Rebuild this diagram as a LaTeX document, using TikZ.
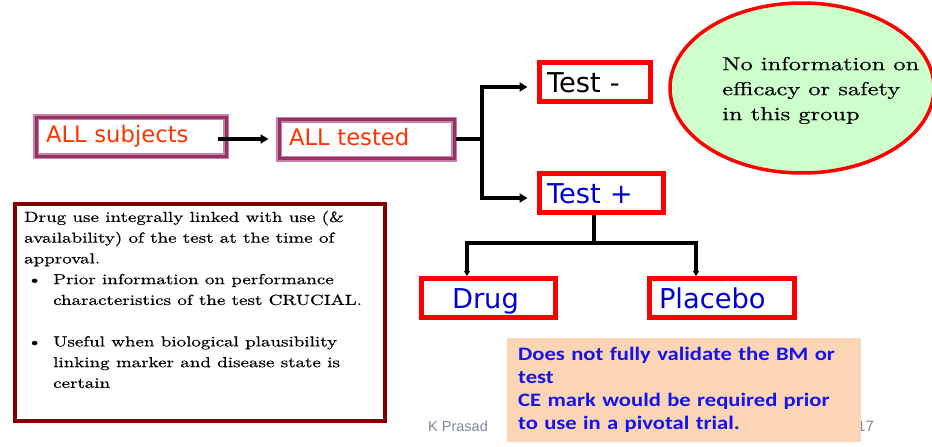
\documentclass[tikz,border=0pt]{standalone}
\usepackage{fontspec}
\usetikzlibrary{arrows.meta,calc,shapes.geometric}
\newfontfamily\verd{DejaVu Sans}
\newfontfamily\calib[FakeStretch=1.19]{Carlito}
\newfontfamily\arialf{Liberation Sans}
\newfontfamily\gara{lmroman10-regular}[Extension=.otf, FakeStretch=1.3, FakeBold=0.5]
\definecolor{plight}{RGB}{200,130,170}
\definecolor{pdark}{RGB}{150,50,100}
\definecolor{redorange}{RGB}{255,51,0}
\definecolor{tblue}{RGB}{0,0,210}
\definecolor{nblue}{RGB}{20,20,235}
\definecolor{lgreen}{RGB}{204,255,204}
\definecolor{maroon}{RGB}{128,0,0}
\definecolor{peach}{RGB}{251,213,181}
\definecolor{footgray}{RGB}{125,135,155}
\begin{document}
\begin{tikzpicture}[x=1pt,y=-1pt,
  pbox/.style={draw=pdark, line width=3pt, preaction={draw=plight, line width=6pt},
    minimum height=39pt, inner xsep=10pt, inner ysep=0pt, text width=#1, align=left,
    text height=12.5pt, text depth=0pt,
    text=redorange, font=\verd\fontsize{22.7}{26}\selectfont},
  rbox/.style={draw=red, line width=5pt, minimum height=39pt, inner ysep=0pt,
    text height=20pt, text depth=0pt,
    align=left, font=\verd\fontsize{27.3}{30}\selectfont},
  conn/.style={line width=4pt},
  conn2/.style={line width=3.5pt},
  bigtip/.style={-{Triangle[length=8pt,width=9pt]}},
  smalltip/.style={-{Triangle[length=5pt,width=6pt]}}
]
\useasboundingbox (0,0) rectangle (932,447);
\clip (0,0) rectangle (932,447);

% flow boxes
\node[pbox=170pt] (subj) at (131,136.5) {ALL subjects};
\node[pbox=155pt] (tested) at (366.5,139) {ALL tested};
\node[rbox, inner xsep=7.5pt, text width=96pt] (testneg) at (595,82) {Test -};
\node[rbox, inner xsep=7.5pt, text width=109pt, text=tblue] (testpos) at (601.5,193) {Test +};
\node[rbox, inner xsep=30.5pt, text width=73pt, text=tblue] (drug) at (488.5,298) {Drug};
\node[rbox, inner xsep=9.5pt, text width=126pt, text=tblue] (placebo) at (722,298) {Placebo};

% connectors
\coordinate (astart) at ($(subj.east)+(-10,2.5)$);
\draw[conn, bigtip, shorten >=9pt] (astart) -- (astart -| tested.west);
\coordinate (fork) at (482,139);
\draw[conn] (tested.east) -- (fork);
\draw[conn, bigtip, shorten >=9.5pt] (fork) |- ($(testneg.west)+(0,5)$);
\draw[conn, bigtip, shorten >=9.5pt] (fork) |- ($(testpos.west)+(0,5)$);
\coordinate (split) at (594,243);
\draw[conn2] (split |- testpos.south) -- (split);
\draw[conn2, smalltip] (split) -| ($(drug.north)+(-21.5,0)$);
\draw[conn2, smalltip] (split) -| ($(placebo.north)+(-26,0)$);

% comment ellipse
\node[ellipse, draw=red, line width=3.5pt, fill=lgreen, minimum width=264pt,
  minimum height=170pt, inner sep=0pt] (ell) at (802,88) {};
\node[anchor=north west, inner sep=0pt, text=black, font=\gara\fontsize{18.8}{25}\selectfont]
  (elltext) at (722,52.5) {\begin{tabular}{@{}l@{}}No information on\\efficacy or safety\\in this group\end{tabular}};

% left remarks box
\draw[draw=maroon, line width=4pt] (15,204) rectangle (385,421);
\node[anchor=north west, inner sep=0pt, text=black, font=\gara\fontsize{14.6}{20.75}\selectfont]
  (remarks) at (24,207.2)
  {\begin{tabular}{@{}l@{}}
  Drug use integrally linked with use (\&\\
  availability) of the test at the time of\\
  approval.\\
  \makebox[29pt][l]{\hspace{3pt}\textbullet}Prior information on performance\\
  \makebox[29pt][l]{}characteristics of the test CRUCIAL.\\
  \\
  \makebox[29pt][l]{\hspace{3pt}\textbullet}Useful when biological plausibility\\
  \makebox[29pt][l]{}linking marker and disease state is\\
  \makebox[29pt][l]{}certain
  \end{tabular}};

% footer
\node[anchor=base west, inner sep=0pt, text=footgray, font=\arialf\fontsize{14.5}{17}\selectfont]
  (author) at (428,431) {K Prasad};
\node[anchor=base west, inner sep=0pt, text=footgray, font=\arialf\fontsize{15}{17}\selectfont]
  (page) at (857,431) {17};

% note box
\node[fill=peach, anchor=north west, minimum width=354pt, minimum height=104pt,
  text width=332pt, inner xsep=11pt, inner ysep=0pt, align=left, text=nblue,
  font=\calib\bfseries\fontsize{19}{23}\selectfont] (note) at (507,338)
  {Does not fully validate the BM or\\test\\CE mark would be required prior\\to use in a pivotal trial.};
\end{tikzpicture}
\end{document}
